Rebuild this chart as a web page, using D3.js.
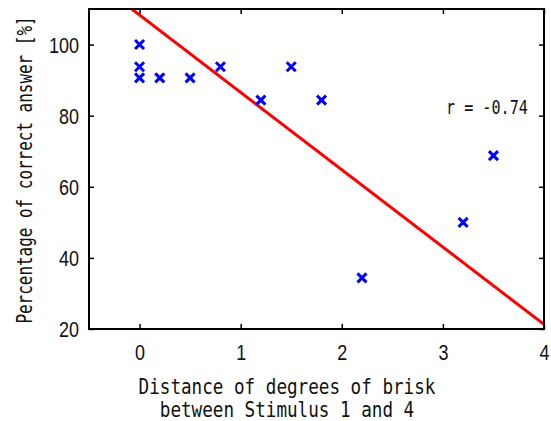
<!DOCTYPE html>
<html>
<head>
<meta charset="utf-8">
<script src="https://cdn.jsdelivr.net/npm/d3@7/dist/d3.min.js"></script>
<style>
  body { margin: 0; background: #fff; }
  svg { display: block; }
</style>
</head>
<body>
<svg id="chart"></svg>
<script>
var width = 551;
var height = 421;
var margin = {left: 89, right: 7, top: 9, bottom: 92};

// data
var distX = [0, 0, 0, 0.2, 0.5, 0.8, 1.2, 1.5, 1.8, 2.2, 3.2, 3.5];
var correctY = [100, 93.75, 90.625, 90.625, 90.625, 93.75, 84.375, 93.75, 84.375, 34.375, 50, 68.75];
var fitX = [-0.5, 4];
var fitY = [119.2, 21.3];
var xTicks = [0, 1, 2, 3, 4];
var yTicks = [20, 40, 60, 80, 100];
var rLabel = "r = -0.74";

var monoFont = "'DejaVu Sans Mono', 'Liberation Mono', monospace";

var w = width - margin.left - margin.right;
var h = height - margin.top - margin.bottom;

var svg = d3.select("#chart").attr("width", width).attr("height", height);

var x = d3.scaleLinear().domain([-0.5, 4]).range([0, w]);
var y = d3.scaleLinear().domain([20, 110]).range([h, 0]);

var g = svg.append("g")
    .attr("transform", "translate(" + margin.left + "," + margin.top + ")");

svg.append("defs").append("clipPath").attr("id", "plotclip")
    .append("rect").attr("width", w).attr("height", h);

// axes with inward ticks, mirrored on top / right
function styleAxis(sel, showLabels) {
    sel.select(".domain").remove();
    sel.selectAll(".tick line").attr("stroke", "#000").attr("stroke-width", 1.5);
    if (!showLabels) {
        sel.selectAll(".tick text").remove();
    } else {
        sel.selectAll(".tick text")
            .attr("fill", "#111")
            .style("font-family", "'Liberation Sans', Arial, sans-serif")
            .style("font-size", "22px")
            .attr("lengthAdjust", "spacingAndGlyphs")
            .attr("textLength", function () { return this.textContent.length * 10; });
    }
}

var fmt = d3.format("d");
var xAxis = d3.axisBottom(x).tickValues(xTicks).tickFormat(fmt).tickSizeInner(-5).tickSizeOuter(0).tickPadding(10);
var yAxis = d3.axisLeft(y).tickValues(yTicks).tickFormat(fmt).tickSizeInner(-5).tickSizeOuter(0).tickPadding(10);

g.append("g").attr("transform", "translate(0," + h + ")").call(xAxis)
    .call(function (s) { styleAxis(s, true); })
    .selectAll(".tick text").attr("dy", "0.95em");
g.append("g").call(yAxis)
    .call(function (s) { styleAxis(s, true); })
    .selectAll(".tick text").attr("dy", "0.36em");
g.append("g").call(d3.axisTop(x).tickValues(xTicks).tickSizeInner(-5).tickSizeOuter(0))
    .call(function (s) { styleAxis(s, false); });
g.append("g").attr("transform", "translate(" + w + ",0)")
    .call(d3.axisRight(y).tickValues(yTicks).tickSizeInner(-5).tickSizeOuter(0))
    .call(function (s) { styleAxis(s, false); });

// regression line
var line = d3.line()
    .x(function (d) { return x(d[0]); })
    .y(function (d) { return y(d[1]); });

g.append("path")
    .datum(d3.zip(fitX, fitY))
    .attr("clip-path", "url(#plotclip)")
    .attr("d", line)
    .attr("fill", "none")
    .attr("stroke", "#ff0000")
    .attr("stroke-width", 3);

// cross markers
var pts = d3.zip(distX, correctY);
var s = 4.5;
g.selectAll("path.pt")
    .data(pts)
    .enter()
    .append("path")
    .attr("class", "pt")
    .attr("d", function (d) {
        var cx = x(d[0]), cy = y(d[1]);
        return "M" + (cx - s) + "," + (cy - s) + "L" + (cx + s) + "," + (cy + s) +
            "M" + (cx - s) + "," + (cy + s) + "L" + (cx + s) + "," + (cy - s);
    })
    .attr("stroke", "#0000ff")
    .attr("stroke-width", 3)
    .attr("fill", "none");

// frame
g.append("rect")
    .attr("width", w).attr("height", h)
    .attr("fill", "none")
    .attr("stroke", "#000")
    .attr("stroke-width", 2);

// correlation text
g.append("text")
    .attr("x", x(3.03))
    .attr("y", y(80.5))
    .attr("fill", "#111")
    .style("font-family", monoFont)
    .style("font-size", "19px")
    .attr("lengthAdjust", "spacingAndGlyphs")
    .attr("textLength", 82)
    .text(rLabel);

// axis titles
var xTitle = ["Distance of degrees of brisk", "between Stimulus 1 and 4"];
svg.selectAll("text.xtitle")
    .data(xTitle)
    .enter()
    .append("text")
    .attr("class", "xtitle")
    .attr("x", 287)
    .attr("y", function (d, i) { return 394 + i * 23; })
    .attr("text-anchor", "middle")
    .attr("fill", "#111")
    .style("font-family", monoFont)
    .style("font-size", "21px")
    .attr("lengthAdjust", "spacingAndGlyphs")
    .attr("textLength", function (d) { return d.length * 10.6; })
    .text(function (d) { return d; });

var yTitle = "Percentage of correct answer [%]";
svg.append("text")
    .attr("transform", "translate(32," + 170 + ") rotate(-90)")
    .attr("text-anchor", "middle")
    .attr("fill", "#111")
    .style("font-family", monoFont)
    .style("font-size", "21px")
    .attr("lengthAdjust", "spacingAndGlyphs")
    .attr("textLength", yTitle.length * 9.6)
    .text(yTitle);
</script>
</body>
</html>
